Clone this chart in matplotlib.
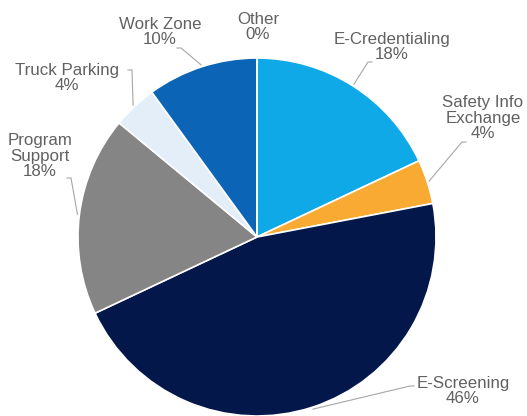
import matplotlib

matplotlib.use('Agg')
import matplotlib.pyplot as plt
import numpy as np

# данные
labels = ['E-Credentialing', 'Safety Info\nExchange', 'E-Screening',
          'Program\nSupport', 'Truck Parking', 'Work Zone', 'Other']
shares = [18, 4, 46, 18, 4, 10, 0]
colors = ['#0FA9E8', '#F8AA33', '#03174A', '#858585', '#E3EEF9', '#0B64B6', '#FFFFFF']

# позиции подписей (пиксели) и точка начала выноски
label_pos = [(392, 369), (483, 298), (463, 25), (40, 260), (67, 338), (160, 384), (258, 389)]
line_start = [(372, 354), (466, 274), (414, 30), (67, 238), (128, 346), (177, 368), None]

W, H = 527, 416
cx, cy, r = 257, 416 - 237, 179

fig = plt.figure(figsize=(W / 100, H / 100), dpi=100)
ax = fig.add_axes([0, 0, 1, 1])
wedges, _ = ax.pie(shares, colors=colors, startangle=90, counterclock=False,
                   center=(cx, cy), radius=r,
                   wedgeprops=dict(edgecolor='white', linewidth=1.2))
ax.set_xlim(0, W)
ax.set_ylim(0, H)
ax.set_aspect('equal')
ax.axis('off')

for w, lab, val, pos, st in zip(wedges, labels, shares, label_pos, line_start):
    ax.text(pos[0], pos[1], f'{lab}\n{val}%', ha='center', va='center',
            fontsize=12.2, color='#616161', family='Liberation Sans',
            linespacing=1.08)
    if st is None:
        continue
    ang = np.deg2rad((w.theta1 + w.theta2) / 2)
    ex = cx + (r + 2) * np.cos(ang)
    ey = cy + (r + 2) * np.sin(ang)
    ax.plot([st[0], st[0] - 4 if st[0] > cx else st[0] + 4, ex],
            [st[1], st[1], ey], color='#A6A6A6', lw=0.8)

fig.savefig('out.png', dpi=100)
plt.close(fig)
